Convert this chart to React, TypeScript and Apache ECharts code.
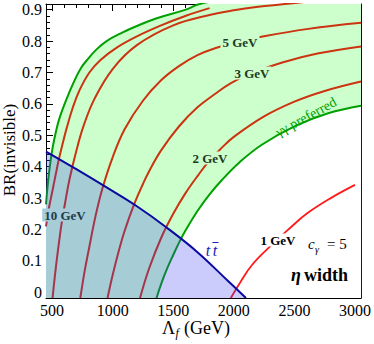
import React, { useEffect, useRef } from "react";
import * as echarts from "echarts";

// ---- data (Λ_f in GeV, BR(invisible)) ----
const upperGreenL = [450, 460, 475, 490, 507, 530, 560, 617, 680, 740, 800, 863, 950, 1079, 1200, 1358, 1604, 1711, 2000, 2500, 3050];
const upperGreenBR = [0.28, 0.325, 0.38, 0.425, 0.465, 0.508, 0.553, 0.613, 0.67, 0.715, 0.745, 0.772, 0.8, 0.827, 0.848, 0.872, 0.9, 0.917, 0.94, 0.965, 0.98];

const lowerGreenL = [1362, 1400, 1450, 1500, 1550, 1600, 1700, 1800, 1900, 2050, 2231, 2505, 2778, 3050];
const lowerGreenBR = [-0.018, 0.026, 0.076, 0.119, 0.16, 0.196, 0.259, 0.312, 0.357, 0.415, 0.47, 0.529, 0.57, 0.594];

const blueL = [450, 700, 950, 1200, 1450, 1700, 1950, 2100];
const blueBR = [0.448, 0.392, 0.334, 0.274, 0.205, 0.128, 0.037, -0.018];

const c1L = [450, 475, 504, 530, 553, 580, 620, 670, 726, 808, 900, 1037, 1200, 1400, 1600, 1800];
const c1BR = [0.21, 0.27, 0.325, 0.375, 0.418, 0.462, 0.522, 0.587, 0.643, 0.7, 0.74, 0.78, 0.815, 0.85, 0.88, 0.905];

const gev10L = [504, 530, 560, 578, 610, 644, 700, 760, 850, 1000, 1200, 1500, 1800, 2000, 2200, 2400, 2600];
const gev10BR = [-0.018, 0.075, 0.167, 0.217, 0.29, 0.36, 0.45, 0.53, 0.616, 0.711, 0.787, 0.85, 0.883, 0.898, 0.909, 0.917, 0.925];

const gev5L = [733, 770, 800, 860, 915, 1000, 1100, 1250, 1400, 1547, 1700, 1851, 2040, 2204, 2600, 3050];
const gev5BR = [-0.018, 0.07, 0.13, 0.245, 0.33, 0.43, 0.52, 0.61, 0.675, 0.72, 0.755, 0.778, 0.798, 0.812, 0.838, 0.858];

const gev3L = [958, 1000, 1050, 1100, 1177, 1250, 1300, 1400, 1547, 1700, 1850, 1973, 2139, 2400, 2700, 3050];
const gev3BR = [-0.018, 0.055, 0.131, 0.197, 0.28, 0.345, 0.385, 0.452, 0.528, 0.589, 0.633, 0.665, 0.697, 0.732, 0.761, 0.783];

const gev2L = [1226, 1300, 1400, 1500, 1600, 1700, 1800, 1900, 2000, 2250, 2500, 2750, 3050];
const gev2BR = [-0.018, 0.075, 0.173, 0.25, 0.315, 0.37, 0.42, 0.46, 0.495, 0.56, 0.607, 0.641, 0.671];

const gev1L = [1975, 2050, 2150, 2310, 2450, 2600, 2800, 3000];
const gev1BR = [-0.018, 0.03, 0.087, 0.15, 0.2, 0.25, 0.3, 0.342];

const xMajor = [500, 1000, 1500, 2000, 2500, 3000];
const yMajor = [0, 0.1, 0.2, 0.3, 0.4, 0.5, 0.6, 0.7, 0.8, 0.9];

const X_MIN = 450, X_MAX = 3050, Y_MIN = -0.018, Y_MAX = 0.918;

const xMinor: number[] = [];
for (let v = 500; v <= 3000; v += 100) if (v % 500 !== 0) xMinor.push(v);
const yMinor: number[] = [];
for (let i = 0; i <= 45; i++) if (i % 5 !== 0) yMinor.push(Math.round(i * 2) / 100);

const SERIF = "Liberation Serif";

const pairs = (xs: number[], ys: number[]) => xs.map((x, i) => [x, ys[i]]);

function xAx(pos: string, ticks: number[], len: number, labels: boolean, line: boolean) {
  return {
    type: "value", position: pos, min: X_MIN, max: X_MAX,
    axisLine: { show: line, onZero: false, lineStyle: { color: "#000", width: 1 } },
    axisTick: { show: true, inside: true, length: len, customValues: ticks, lineStyle: { color: "#000", width: 1 } },
    axisLabel: labels
      ? { show: true, customValues: ticks, margin: 4, color: "#000", fontFamily: SERIF, fontSize: 16, formatter: (v: number) => String(Math.round(v)) }
      : { show: false },
    splitLine: { show: false },
  };
}
function yAx(pos: string, ticks: number[], len: number, labels: boolean, line: boolean) {
  return {
    type: "value", position: pos, min: Y_MIN, max: Y_MAX,
    axisLine: { show: line, onZero: false, lineStyle: { color: "#000", width: 1 } },
    axisTick: { show: true, inside: true, length: len, customValues: ticks, lineStyle: { color: "#000", width: 1 } },
    axisLabel: labels
      ? {
          show: true, customValues: ticks, margin: 4, color: "#000", fontFamily: SERIF, fontSize: 16,
          formatter: (v: number) => (Math.abs(v) < 1e-9 ? "0" : v.toFixed(1)),
        }
      : { show: false },
    splitLine: { show: false },
  };
}

function lineSeries(name: string, data: number[][], color: string, width: number, z: number) {
  return {
    name, type: "line", data, symbol: "none", showSymbol: false, smooth: 0.4,
    lineStyle: { color, width }, silent: true, clip: true, z, animation: false,
  };
}
function fillSeries(name: string, data: number[][], color: string, z: number) {
  return {
    name, type: "line", data, symbol: "none", showSymbol: false, smooth: 0.4,
    lineStyle: { width: 0, opacity: 0 }, areaStyle: { color, opacity: 1, origin: "start" },
    silent: true, clip: true, z, animation: false,
  };
}

function txt(text: string, x: number, y: number, size: number, fill: string, opts: any = {}) {
  return {
    type: "text", x, y, z: 100, silent: true,
    rotation: opts.rotation || 0,
    style: {
      text, fill, fontFamily: SERIF, fontSize: size,
      fontWeight: opts.bold ? "bold" : "normal", fontStyle: opts.italic ? "italic" : "normal",
      align: opts.align || "center", verticalAlign: "middle",
      ...(opts.bg ? { backgroundColor: opts.bg, padding: [0, 2] } : {}),
    },
  };
}

export default function App() {
  const ref = useRef<HTMLDivElement>(null);
  useEffect(() => {
    if (!ref.current) return;
    const chart = echarts.init(ref.current, undefined, { renderer: "svg" });
    const GREEN_FILL = "#ccffcc";
    const TEAL = "#a6ccd9";
    const RED = "#cc3311";
    const labelGreen = "#1e3a1e";
    const option: any = {
      animation: false,
      textStyle: { fontFamily: SERIF },
      grid: { left: 46, right: 11, top: 4, bottom: 46, containLabel: false },
      xAxis: [
        xAx("bottom", xMajor, 7, true, true),
        xAx("bottom", xMinor, 4, false, false),
        xAx("top", xMajor, 7, false, true),
        xAx("top", xMinor, 4, false, false),
      ],
      yAxis: [
        yAx("left", yMajor, 7, true, true),
        yAx("left", yMinor, 4, false, false),
        yAx("right", yMajor, 7, false, true),
        yAx("right", yMinor, 4, false, false),
      ],
      series: [
        fillSeries("bandUpper", pairs(upperGreenL, upperGreenBR), GREEN_FILL, 1),
        fillSeries("bandLower", pairs(lowerGreenL, lowerGreenBR), "#ffffff", 2),
        lineSeries("c1", pairs(c1L, c1BR), RED, 2, 3),
        lineSeries("10 GeV", pairs(gev10L, gev10BR), RED, 2, 3),
        lineSeries("5 GeV", pairs(gev5L, gev5BR), RED, 2, 3),
        lineSeries("3 GeV", pairs(gev3L, gev3BR), RED, 2, 3),
        lineSeries("2 GeV", pairs(gev2L, gev2BR), RED, 2, 3),
        lineSeries("1 GeV", pairs(gev1L, gev1BR), "#ff1a1a", 1.8, 3),
        lineSeries("upperGreen", pairs(upperGreenL, upperGreenBR), "#00a000", 2, 4),
        lineSeries("lowerGreen", pairs(lowerGreenL, lowerGreenBR), "#00a000", 2, 4),
        fillSeries("ttFill", pairs(blueL, blueBR), "rgba(55,55,243,0.255)", 5),
        lineSeries("tt", pairs(blueL, blueBR), "#0a0aa0", 2, 6),
      ],
      graphic: [
        txt("5 GeV", 240, 42, 13, labelGreen, { bold: true, bg: GREEN_FILL }),
        txt("3 GeV", 252, 73, 13, labelGreen, { bold: true, bg: GREEN_FILL }),
        txt("2 GeV", 210, 158, 13, labelGreen, { bold: true, bg: GREEN_FILL }),
        txt("10 GeV", 65, 215, 13, "#1d3b48", { bold: true, bg: TEAL }),
        txt("1 GeV", 278, 240, 13, "#000", { bold: true, bg: "#ffffff" }),
        txt("γγ preferred", 306, 117, 14, "#00a000", { rotation: 0.5 }),
        // t t-bar
        txt("t", 208, 250, 16, "#2020c0", { italic: true }),
        txt("t", 215, 250, 16, "#2020c0", { italic: true }),
        { type: "line", z: 100, silent: true, shape: { x1: 212.5, y1: 242.5, x2: 218.5, y2: 242.5 }, style: { stroke: "#2020c0", lineWidth: 1 } },
        // c_gamma = 5
        txt("c", 308, 244, 15, "#000", { italic: true, align: "left" }),
        txt("γ", 315, 249, 10, "#000", { italic: true, align: "left" }),
        txt("= 5", 327, 244, 15, "#000", { align: "left" }),
        // eta width
        txt("η", 296, 275, 18, "#000", { bold: true, italic: true }),
        txt("width", 304, 275, 18, "#000", { bold: true, align: "left" }),
        // axis titles
        txt("BR(invisible)", 9, 150, 17, "#000", { rotation: Math.PI / 2 }),
        txt("Λ", 162, 328, 18, "#000", { align: "left" }),
        txt("f", 175.5, 333, 12, "#000", { italic: true, align: "left" }),
        txt("(GeV)", 184, 328, 18, "#000", { align: "left" }),
      ],
    };
    chart.setOption(option);
    return () => chart.dispose();
  }, []);
  return <div ref={ref} style={{ position: "absolute", left: 0, top: 0, width: 374, height: 344, background: "#fff" }} />;
}
